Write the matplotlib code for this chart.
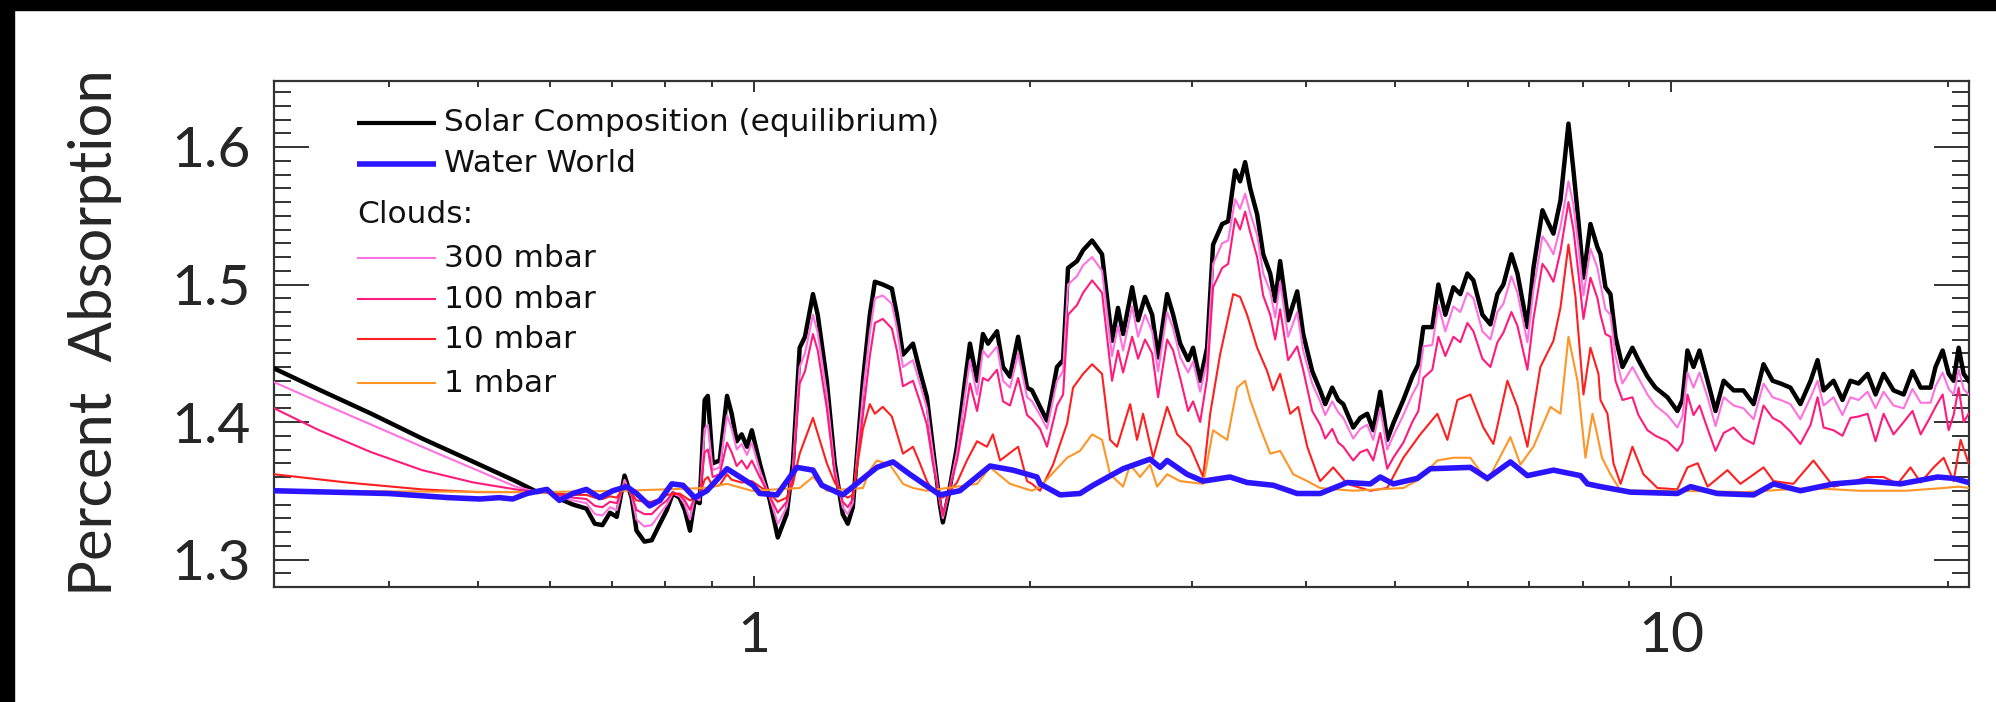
import matplotlib
matplotlib.use("Agg")
import matplotlib.pyplot as plt
import numpy as np
from matplotlib.patches import Rectangle
from matplotlib.ticker import FixedLocator, FixedFormatter, MultipleLocator, LogLocator, NullFormatter, FormatStrFormatter

# ---------------- data (wavelength in micron, percent absorption) ----------------
wl = [0.300, 0.336, 0.383, 0.435, 0.495, 0.550, 0.581, 0.595, 0.610, 0.635, 0.657, 0.671, 0.684, 0.697, 0.709, 0.723, 0.736,
      0.745, 0.760, 0.774, 0.790, 0.804, 0.816, 0.830, 0.841, 0.852, 0.862, 0.873, 0.884, 0.891, 0.902, 0.918, 0.935, 0.946,
      0.958, 0.970, 0.983, 0.995,
      1.015, 1.041, 1.062, 1.086, 1.103, 1.122, 1.137, 1.160, 1.174, 1.201, 1.225, 1.250, 1.266, 1.282, 1.315, 1.338, 1.355,
      1.382, 1.414, 1.432, 1.454, 1.491, 1.517, 1.544, 1.567, 1.595, 1.607, 1.628, 1.665, 1.699, 1.720, 1.751, 1.777, 1.800,
      1.841, 1.869, 1.902, 1.941, 1.985, 2.010, 2.051,
      2.087, 2.140, 2.173, 2.200, 2.250, 2.285, 2.337, 2.396, 2.457, 2.494, 2.526, 2.584, 2.623, 2.669, 2.717, 2.758, 2.821,
      2.864, 2.915, 2.974, 3.011, 3.065, 3.119, 3.166, 3.239, 3.288, 3.346, 3.388, 3.431, 3.475, 3.536, 3.590, 3.654, 3.700,
      3.746, 3.822, 3.910, 3.969, 4.060, 4.142,
      4.195, 4.269, 4.334, 4.389, 4.500, 4.580, 4.661, 4.732, 4.816, 4.901, 4.976, 5.103, 5.219, 5.299, 5.366, 5.488, 5.572,
      5.670, 5.786, 5.888, 5.993, 6.084, 6.223, 6.349, 6.462, 6.560, 6.693, 6.795, 6.967, 7.073, 7.235, 7.326, 7.437, 7.569,
      7.723, 7.820, 7.919, 8.019, 8.161, 8.306,
      8.369, 8.474, 8.581, 8.690, 8.844, 9.068, 9.206, 9.416, 9.607, 9.900, 10.15, 10.28, 10.41, 10.57, 10.73, 10.95, 11.17,
      11.40, 11.69, 11.98, 12.29, 12.60, 12.89, 13.15, 13.48, 13.82, 14.18, 14.43, 14.65, 15.02, 15.36, 15.67, 15.99, 16.36,
      16.69, 17.03, 17.46, 17.91, 18.31, 18.69, 19.16, 19.40, 19.75, 20.05, 20.30, 20.56, 20.82, 21.08]

solar = [1.439, 1.4235, 1.406, 1.388, 1.371, 1.357, 1.349, 1.351, 1.345, 1.340, 1.337, 1.326, 1.325, 1.334, 1.331, 1.361, 1.345,
         1.321, 1.313, 1.314, 1.326, 1.336, 1.348, 1.345, 1.336, 1.321, 1.343, 1.341, 1.416, 1.419, 1.370, 1.372, 1.419, 1.406,
         1.386, 1.391, 1.382, 1.394,
         1.370, 1.343, 1.316, 1.333, 1.370, 1.454, 1.462, 1.493, 1.478, 1.430, 1.370, 1.333, 1.326, 1.338, 1.430, 1.478, 1.502,
         1.500, 1.497, 1.478, 1.449, 1.457, 1.437, 1.418, 1.382, 1.340, 1.327, 1.345, 1.382, 1.430, 1.457, 1.430, 1.464, 1.457,
         1.466, 1.440, 1.433, 1.462, 1.425, 1.423, 1.411,
         1.401, 1.440, 1.445, 1.512, 1.517, 1.525, 1.532, 1.522, 1.459, 1.483, 1.464, 1.498, 1.474, 1.491, 1.478, 1.447, 1.493,
         1.478, 1.457, 1.445, 1.454, 1.430, 1.454, 1.529, 1.544, 1.546, 1.583, 1.575, 1.589, 1.570, 1.551, 1.522, 1.508, 1.488,
         1.517, 1.474, 1.495, 1.464, 1.437, 1.423,
         1.413, 1.425, 1.416, 1.413, 1.396, 1.403, 1.406, 1.394, 1.422, 1.387, 1.399, 1.416, 1.433, 1.442, 1.469, 1.469, 1.500,
         1.478, 1.498, 1.493, 1.508, 1.503, 1.478, 1.471, 1.493, 1.500, 1.522, 1.508, 1.469, 1.512, 1.554, 1.546, 1.537, 1.561,
         1.617, 1.583, 1.546, 1.505, 1.544, 1.527,
         1.522, 1.498, 1.493, 1.462, 1.440, 1.454, 1.445, 1.433, 1.425, 1.418, 1.408, 1.416, 1.452, 1.440, 1.452, 1.430, 1.408,
         1.430, 1.423, 1.423, 1.413, 1.442, 1.430, 1.428, 1.425, 1.413, 1.430, 1.445, 1.423, 1.430, 1.416, 1.430, 1.428, 1.435,
         1.420, 1.435, 1.423, 1.420, 1.437, 1.425, 1.425, 1.440, 1.452, 1.435, 1.430, 1.454, 1.435, 1.430]

cloud_300 = [1.429, 1.4145, 1.398, 1.382, 1.366, 1.353, 1.349, 1.350, 1.346, 1.343, 1.341, 1.333, 1.332, 1.338, 1.336, 1.358, 1.346,
             1.329, 1.324, 1.325, 1.333, 1.340, 1.348, 1.346, 1.340, 1.329, 1.345, 1.343, 1.395, 1.398, 1.365, 1.367, 1.405, 1.395,
             1.380, 1.384, 1.376, 1.385,
             1.365, 1.345, 1.326, 1.338, 1.366, 1.440, 1.450, 1.478, 1.465, 1.420, 1.366, 1.338, 1.333, 1.341, 1.420, 1.465, 1.490,
             1.492, 1.486, 1.468, 1.440, 1.445, 1.428, 1.410, 1.378, 1.342, 1.330, 1.346, 1.378, 1.420, 1.445, 1.420, 1.452, 1.447,
             1.455, 1.430, 1.425, 1.450, 1.418, 1.415, 1.405,
             1.395, 1.430, 1.437, 1.500, 1.506, 1.514, 1.520, 1.510, 1.448, 1.470, 1.452, 1.484, 1.462, 1.478, 1.466, 1.437, 1.480,
             1.468, 1.447, 1.436, 1.444, 1.422, 1.445, 1.515, 1.530, 1.532, 1.562, 1.555, 1.566, 1.552, 1.536, 1.508, 1.495, 1.476,
             1.502, 1.462, 1.480, 1.452, 1.428, 1.415,
             1.405, 1.415, 1.407, 1.403, 1.388, 1.395, 1.398, 1.387, 1.410, 1.380, 1.390, 1.405, 1.420, 1.428, 1.455, 1.456, 1.485,
             1.466, 1.484, 1.480, 1.494, 1.490, 1.466, 1.460, 1.480, 1.486, 1.506, 1.494, 1.458, 1.496, 1.535, 1.530, 1.522, 1.542,
             1.575, 1.558, 1.528, 1.492, 1.526, 1.512,
             1.500, 1.482, 1.478, 1.448, 1.428, 1.440, 1.432, 1.420, 1.412, 1.405, 1.396, 1.404, 1.436, 1.425, 1.436, 1.418, 1.397,
             1.418, 1.412, 1.410, 1.402, 1.428, 1.418, 1.416, 1.413, 1.402, 1.418, 1.430, 1.412, 1.418, 1.405, 1.418, 1.416, 1.422,
             1.410, 1.422, 1.412, 1.410, 1.424, 1.414, 1.414, 1.426, 1.436, 1.424, 1.420, 1.438, 1.424, 1.420]

cloud_100 = [1.410, 1.394, 1.378, 1.365, 1.356, 1.351, 1.349, 1.350, 1.347, 1.345, 1.344, 1.339, 1.338, 1.342, 1.341, 1.355, 1.347,
             1.336, 1.333, 1.333, 1.339, 1.343, 1.349, 1.347, 1.343, 1.336, 1.346, 1.345, 1.378, 1.380, 1.360, 1.362, 1.385, 1.378,
             1.368, 1.372, 1.366, 1.372,
             1.360, 1.346, 1.334, 1.342, 1.362, 1.428, 1.437, 1.464, 1.452, 1.410, 1.362, 1.342, 1.338, 1.344, 1.405, 1.448, 1.472,
             1.475, 1.468, 1.452, 1.426, 1.430, 1.415, 1.398, 1.370, 1.344, 1.332, 1.347, 1.372, 1.405, 1.428, 1.408, 1.432, 1.430,
             1.438, 1.415, 1.412, 1.432, 1.405, 1.402, 1.395,
             1.382, 1.412, 1.420, 1.478, 1.485, 1.494, 1.503, 1.494, 1.430, 1.452, 1.436, 1.462, 1.446, 1.460, 1.450, 1.418, 1.460,
             1.452, 1.432, 1.408, 1.415, 1.400, 1.432, 1.498, 1.512, 1.515, 1.548, 1.540, 1.553, 1.538, 1.520, 1.492, 1.478, 1.460,
             1.482, 1.445, 1.455, 1.438, 1.408, 1.398,
             1.388, 1.395, 1.385, 1.382, 1.372, 1.378, 1.380, 1.372, 1.392, 1.366, 1.374, 1.385, 1.400, 1.408, 1.432, 1.438, 1.462,
             1.448, 1.462, 1.458, 1.472, 1.466, 1.446, 1.440, 1.458, 1.465, 1.480, 1.470, 1.438, 1.475, 1.515, 1.510, 1.502, 1.524,
             1.560, 1.540, 1.508, 1.475, 1.505, 1.490,
             1.478, 1.464, 1.462, 1.430, 1.416, 1.418, 1.405, 1.394, 1.390, 1.386, 1.379, 1.385, 1.420, 1.405, 1.412, 1.395, 1.379,
             1.392, 1.396, 1.388, 1.384, 1.412, 1.403, 1.400, 1.393, 1.384, 1.398, 1.418, 1.396, 1.394, 1.390, 1.403, 1.404, 1.406,
             1.386, 1.406, 1.391, 1.400, 1.408, 1.391, 1.404, 1.411, 1.420, 1.394, 1.405, 1.425, 1.400, 1.406]

wl_10 = [0.300, 0.360, 0.435, 0.500, 0.581, 0.610, 0.635, 0.657, 0.671, 0.684, 0.697, 0.709, 0.723, 0.736, 0.745, 0.760, 0.774,
         0.790, 0.804, 0.830, 0.852, 0.873, 0.884, 0.891, 0.902, 0.918, 0.935, 0.946, 0.970, 0.995, 1.015, 1.041, 1.062, 1.086,
         1.103, 1.122, 1.160, 1.201, 1.225, 1.250, 1.266, 1.282, 1.315, 1.338, 1.355, 1.382, 1.414, 1.454, 1.491, 1.517, 1.544,
         1.567, 1.607, 1.628, 1.665, 1.707, 1.751, 1.795, 1.822, 1.855, 1.941, 1.985, 2.010, 2.051, 2.119, 2.195, 2.228, 2.285,
         2.337, 2.396, 2.445, 2.488, 2.571, 2.616, 2.656, 2.724, 2.821, 2.893, 2.989, 3.088, 3.143, 3.222, 3.330, 3.388, 3.448,
         3.536, 3.626, 3.681, 3.746, 3.842, 3.920, 4.010, 4.111, 4.142, 4.280, 4.433, 4.697, 4.901, 5.103, 5.325, 5.558, 5.699,
         5.844, 6.038, 6.238, 6.397, 6.626, 6.795, 6.967, 7.197, 7.437, 7.569, 7.723, 7.860, 8.019, 8.161, 8.327, 8.369, 8.517,
         8.646, 8.802, 9.068, 9.322, 9.656, 10.15, 10.41, 10.68, 10.95, 11.51, 11.89, 12.60, 12.92, 13.58, 14.28, 15.02, 15.67,
         16.36, 17.03, 17.64, 18.22, 18.69, 19.31, 19.80, 20.30, 20.66, 21.08]
cloud_10 = [1.362, 1.356, 1.351, 1.349, 1.349, 1.348, 1.347, 1.347, 1.345, 1.344, 1.346, 1.345, 1.353, 1.348, 1.343, 1.342, 1.342,
            1.344, 1.347, 1.348, 1.343, 1.347, 1.358, 1.360, 1.353, 1.354, 1.362, 1.358, 1.356, 1.357, 1.353, 1.348, 1.342, 1.345,
            1.355, 1.377, 1.403, 1.370, 1.356, 1.347, 1.345, 1.347, 1.395, 1.413, 1.406, 1.411, 1.404, 1.377, 1.382, 1.370, 1.357,
            1.350, 1.345, 1.348, 1.356, 1.372, 1.386, 1.382, 1.391, 1.372, 1.382, 1.357, 1.355, 1.350, 1.369, 1.399, 1.425, 1.435,
            1.442, 1.435, 1.387, 1.382, 1.413, 1.387, 1.406, 1.374, 1.411, 1.391, 1.382, 1.360, 1.406, 1.449, 1.493, 1.491, 1.478,
            1.454, 1.437, 1.423, 1.435, 1.406, 1.411, 1.382, 1.362, 1.357, 1.367, 1.355, 1.350, 1.352, 1.374, 1.391, 1.406, 1.387,
            1.416, 1.420, 1.396, 1.384, 1.430, 1.411, 1.382, 1.440, 1.459, 1.483, 1.529, 1.491, 1.420, 1.454, 1.435, 1.416, 1.406,
            1.370, 1.355, 1.382, 1.362, 1.352, 1.351, 1.367, 1.370, 1.353, 1.365, 1.355, 1.367, 1.357, 1.355, 1.372, 1.353, 1.356,
            1.360, 1.360, 1.355, 1.367, 1.356, 1.367, 1.374, 1.357, 1.387, 1.370]

wl_1 = [0.300, 0.581, 0.723, 0.884, 0.935, 0.995, 1.122, 1.160, 1.201, 1.315, 1.338, 1.362, 1.407, 1.454, 1.491, 1.544, 1.751,
        1.809, 1.902, 2.010, 2.051, 2.195, 2.267, 2.337, 2.396, 2.445, 2.526, 2.571, 2.636, 2.703, 2.751, 2.821, 2.915, 3.088,
        3.166, 3.280, 3.363, 3.431, 3.475, 3.562, 3.654, 3.746, 3.871, 4.010, 4.142, 4.500, 5.103, 5.300, 5.558, 5.786, 6.038,
        6.301, 6.676, 6.846, 7.073, 7.382, 7.569, 7.723, 7.899, 8.059, 8.202, 8.300, 8.400, 8.581, 8.802, 10.15, 12.00, 14.18,
        16.00, 18.00, 19.80, 20.56, 21.08]
cloud_1 = [1.350, 1.349, 1.350, 1.352, 1.355, 1.350, 1.352, 1.360, 1.350, 1.352, 1.365, 1.372, 1.369, 1.355, 1.352, 1.350, 1.355,
           1.367, 1.355, 1.350, 1.353, 1.374, 1.379, 1.391, 1.387, 1.362, 1.353, 1.369, 1.360, 1.369, 1.353, 1.362, 1.357, 1.355,
           1.394, 1.387, 1.425, 1.430, 1.416, 1.396, 1.377, 1.379, 1.362, 1.357, 1.352, 1.350, 1.352, 1.358, 1.372, 1.374, 1.374,
           1.357, 1.389, 1.369, 1.382, 1.411, 1.406, 1.462, 1.430, 1.374, 1.406, 1.391, 1.374, 1.362, 1.350, 1.350, 1.349, 1.352,
           1.350, 1.350, 1.352, 1.353, 1.352]

wl_water = [0.300, 0.400, 0.465, 0.503, 0.528, 0.546, 0.566, 0.595, 0.614, 0.635, 0.657, 0.679, 0.702, 0.727, 0.745, 0.770, 0.790,
            0.814, 0.837, 0.862, 0.889, 0.935, 0.966, 0.998, 1.015, 1.060, 1.114, 1.160, 1.186, 1.250, 1.362, 1.418, 1.479, 1.595,
            1.677, 1.809, 1.916, 2.035, 2.051, 2.157, 2.267, 2.343, 2.526, 2.703, 2.772, 2.821, 2.966, 3.088, 3.303, 3.448, 3.681,
            3.910, 4.142, 4.433, 4.697, 4.816, 4.976, 5.286, 5.461, 6.038, 6.301, 6.676, 6.967, 7.437, 7.959, 8.100, 8.369, 9.023,
            10.15, 10.49, 11.22, 12.29, 12.92, 13.82, 15.02, 16.36, 17.77, 19.50, 20.30, 21.08]
water = [1.350, 1.348, 1.345, 1.344, 1.345, 1.344, 1.348, 1.351, 1.343, 1.348, 1.351, 1.345, 1.350, 1.353, 1.348, 1.339, 1.343,
         1.355, 1.354, 1.345, 1.350, 1.366, 1.360, 1.354, 1.348, 1.347, 1.367, 1.365, 1.354, 1.347, 1.367, 1.371, 1.362, 1.347,
         1.350, 1.368, 1.365, 1.360, 1.355, 1.347, 1.348, 1.354, 1.366, 1.373, 1.367, 1.372, 1.362, 1.357, 1.360, 1.356, 1.354,
         1.348, 1.348, 1.356, 1.355, 1.360, 1.355, 1.359, 1.366, 1.367, 1.359, 1.371, 1.361, 1.365, 1.361, 1.355, 1.353, 1.349,
         1.348, 1.353, 1.348, 1.347, 1.355, 1.350, 1.355, 1.357, 1.355, 1.360, 1.359, 1.356]

legend_labels = ["Solar Composition (equilibrium)", "Water World", "Clouds:", "300 mbar", "100 mbar", "10 mbar", "1 mbar"]
x_ticks = [1, 10]
x_tick_labels = ["1", "10"]
y_label = "Percent  Absorption"

# ---------------- figure ----------------
W, H = 1996, 702
fig = plt.figure(figsize=(W / 100, H / 100), dpi=100, facecolor="white")

# dark frame of the original slide screenshot
fig.patches.append(Rectangle((0, 1 - 10 / H), 1, 10 / H, transform=fig.transFigure, color="black", zorder=0))
fig.patches.append(Rectangle((0, 0), 14 / W, 1, transform=fig.transFigure, color="black", zorder=0))
gax = fig.add_axes([14 / W, 1 - 10 / H, 590 / W, 10 / H])
n = 300
g = np.zeros((1, n, 3))
ramp = np.linspace(0.07, 0.17, n)
ramp[int(n * 0.93):] = np.linspace(0.24, 0.02, n - int(n * 0.93))
g[0, :, 0] = ramp
g[0, :, 1] = ramp + 0.01
g[0, :, 2] = ramp + 0.02
gax.imshow(np.clip(g, 0, 1), aspect="auto", extent=[0, 1, 0, 1])
gax.axis("off")

ax = fig.add_axes([274 / W, 1 - 587 / H, (1969 - 274) / W, 506 / H])

ax.plot(wl, solar, color="black", lw=3.2, zorder=3)
ax.plot(wl, cloud_300, color="#ff70e0", lw=1.5, zorder=4)
ax.plot(wl, cloud_100, color="#ff1a7c", lw=1.5, zorder=5)
ax.plot(wl_10, cloud_10, color="#ff1f1f", lw=1.5, zorder=6)
ax.plot(wl_1, cloud_1, color="#ff9526", lw=1.5, zorder=7)
ax.plot(wl_water, water, color="#2b14ff", lw=4.0, zorder=8)

ax.set_xscale("log")
ax.set_xlim(0.3, 21.1)
ax.set_ylim(1.28, 1.648)

ax.xaxis.set_major_locator(FixedLocator(x_ticks))
ax.xaxis.set_major_formatter(FixedFormatter(x_tick_labels))
ax.xaxis.set_minor_locator(LogLocator(base=10, subs=np.arange(2, 10)))
ax.xaxis.set_minor_formatter(NullFormatter())
ax.yaxis.set_major_locator(MultipleLocator(0.1))
ax.yaxis.set_minor_locator(MultipleLocator(0.01))
ax.yaxis.set_major_formatter(FormatStrFormatter("%.1f"))

ax.tick_params(which="both", direction="in", top=True, right=True, color="#222222", width=1.3)
ax.tick_params(axis="x", which="major", length=8, pad=17, labelsize=41)
ax.tick_params(axis="x", which="minor", length=4.5)
ax.tick_params(axis="y", which="major", length=25, pad=17, labelsize=41)
ax.tick_params(axis="y", which="minor", length=12.5)
for lab in ax.get_xticklabels() + ax.get_yticklabels():
    lab.set_fontfamily("Lato")
    lab.set_fontweight("normal")
    lab.set_color("#262626")
for sp in ax.spines.values():
    sp.set_linewidth(1.6)
    sp.set_color("#333333")

fig.text(95 / W, 1 - 333 / H, y_label, rotation=90, ha="center", va="center",
         fontsize=43, family="Lato", weight="normal", color="#262626")

# legend drawn in axes coordinates
leg_colors = ["black", "#2b14ff", None, "#ff70e0", "#ff1a7c", "#ff1f1f", "#ff9526"]
leg_widths = [3.0, 4.0, 0, 1.5, 1.5, 1.5, 1.5]
leg_y = [0.917, 0.836, 0.737, 0.650, 0.569, 0.490, 0.403]
for lab, c, lw_, yy in zip(legend_labels, leg_colors, leg_widths, leg_y):
    if c is not None:
        ax.plot([0.049, 0.0956], [yy, yy], color=c, lw=lw_, transform=ax.transAxes, zorder=9,
                solid_capstyle="butt")
        ax.text(0.1003, yy, lab, transform=ax.transAxes, fontsize=22.5, va="center", ha="left",
                color="#111111", zorder=9)
    else:
        ax.text(0.049, yy, lab, transform=ax.transAxes, fontsize=22.5, va="center", ha="left",
                color="#111111", zorder=9)

fig.savefig("out.png", dpi=100, facecolor="white")
